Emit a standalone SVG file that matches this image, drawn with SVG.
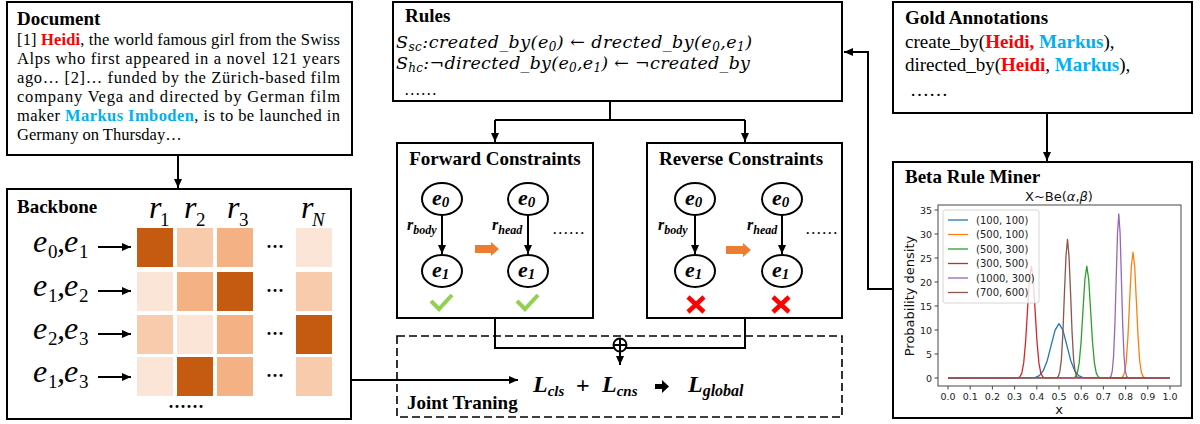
<svg xmlns="http://www.w3.org/2000/svg" width="1200" height="424" viewBox="0 0 1200 424">
<defs>
<style>
.box{fill:#fff;stroke:#000;stroke-width:2}
.conn{fill:none;stroke:#000;stroke-width:2}
.ttl{font-family:"Liberation Serif",serif;font-weight:bold;font-size:19px;fill:#000}
.body{font-family:"Liberation Serif",serif;font-size:16.5px;fill:#000}
.gold{font-family:"Liberation Serif",serif;font-size:19px;fill:#000}
.red{fill:#ff0000;font-weight:bold}
.blue{fill:#00b0f0;font-weight:bold}
.math{font-family:"DejaVu Serif",serif;font-style:italic;font-size:17.5px;fill:#000}
.msub{font-size:12px}
.ebig{font-family:"Liberation Serif",serif;font-style:italic;font-size:32px;fill:#000}
.esub{font-family:"Liberation Serif",serif;font-style:normal;font-size:19px;fill:#000}
.bi{font-family:"Liberation Serif",serif;font-style:italic;font-weight:bold;fill:#000}
.node{fill:#fff;stroke:#000;stroke-width:2}
.tick{font-family:"DejaVu Sans",sans-serif;font-size:9.5px;fill:#222}
.lg{font-family:"DejaVu Sans",sans-serif;font-size:10px;fill:#222}
.ax{font-family:"DejaVu Sans",sans-serif;font-size:13px;fill:#111}
.curve{fill:none;stroke-width:1.3;stroke-linejoin:round}
.orange{fill:#ed7d31}
</style>
<marker id="ah" markerUnits="userSpaceOnUse" markerWidth="10" markerHeight="8" refX="9" refY="4" orient="auto">
<path d="M0,0 L9,4 L0,8 z" fill="#000"/>
</marker>
</defs>
<rect width="1200" height="424" fill="#fff"/>

<!-- Document -->
<g id="document">
<rect class="box" x="7" y="2" width="345" height="153"/>
<text class="ttl" x="17" y="25">Document</text>
<text class="body" x="17" y="45" textLength="323" lengthAdjust="spacing">[1] <tspan class="red">Heidi</tspan>, the world famous girl from the Swiss</text>
<text class="body" x="17" y="64" textLength="323" lengthAdjust="spacing">Alps who first appeared in a novel 121 years</text>
<text class="body" x="17" y="83" textLength="323" lengthAdjust="spacing">ago… [2]… funded by the Zürich-based film</text>
<text class="body" x="17" y="102" textLength="323" lengthAdjust="spacing">company Vega and directed by German film</text>
<text class="body" x="17" y="121" textLength="323" lengthAdjust="spacing">maker <tspan class="blue">Markus Imboden</tspan>, is to be launched in</text>
<text class="body" x="17" y="140">Germany on Thursday…</text>
</g>

<!-- Backbone -->
<g id="backbone">
<rect class="box" x="7" y="189" width="344" height="230"/>
<text class="ttl" x="17" y="213">Backbone</text>
<text class="ebig" x="149" y="218">r</text><text class="esub" x="160" y="226">1</text>
<text class="ebig" x="184" y="218">r</text><text class="esub" x="196" y="226">2</text>
<text class="ebig" x="227" y="218">r</text><text class="esub" x="239" y="226">3</text>
<text class="ebig" x="301" y="218">r</text><text class="esub" x="312" y="226" style="font-style:italic">N</text>
<g>
<rect x="137" y="228" width="36" height="39" fill="#c55a11"/>
<rect x="177" y="228" width="36" height="39" fill="#f8cbad"/>
<rect x="217" y="228" width="36" height="39" fill="#f4b183"/>
<rect x="296" y="228" width="36" height="39" fill="#fbe5d6"/>
<rect x="137" y="272" width="36" height="39" fill="#fbe5d6"/>
<rect x="177" y="272" width="36" height="39" fill="#f4b183"/>
<rect x="217" y="272" width="36" height="39" fill="#c55a11"/>
<rect x="296" y="272" width="36" height="39" fill="#f8cbad"/>
<rect x="137" y="315" width="36" height="39" fill="#f8cbad"/>
<rect x="177" y="315" width="36" height="39" fill="#fbe5d6"/>
<rect x="217" y="315" width="36" height="39" fill="#f4b183"/>
<rect x="296" y="315" width="36" height="39" fill="#c55a11"/>
<rect x="137" y="357" width="36" height="39" fill="#fbe5d6"/>
<rect x="177" y="357" width="36" height="39" fill="#c55a11"/>
<rect x="217" y="357" width="36" height="39" fill="#f4b183"/>
<rect x="296" y="357" width="36" height="39" fill="#f8cbad"/>
</g>
<g class="ttl" style="font-size:18px">
<text x="266" y="253">···</text>
<text x="266" y="297">···</text>
<text x="266" y="340">···</text>
<text x="266" y="382">···</text>
<text x="168" y="413">······</text>
</g>
<text class="ebig" y="252"><tspan x="33">e</tspan><tspan class="esub" x="48" y="258">0</tspan><tspan x="57" y="252">,</tspan><tspan x="64">e</tspan><tspan class="esub" x="79" y="258">1</tspan></text>
<text class="ebig" y="296"><tspan x="33">e</tspan><tspan class="esub" x="48" y="302">1</tspan><tspan x="57" y="296">,</tspan><tspan x="64">e</tspan><tspan class="esub" x="79" y="302">2</tspan></text>
<text class="ebig" y="339"><tspan x="33">e</tspan><tspan class="esub" x="48" y="345">2</tspan><tspan x="57" y="339">,</tspan><tspan x="64">e</tspan><tspan class="esub" x="79" y="345">3</tspan></text>
<text class="ebig" y="382"><tspan x="33">e</tspan><tspan class="esub" x="48" y="388">1</tspan><tspan x="57" y="382">,</tspan><tspan x="64">e</tspan><tspan class="esub" x="79" y="388">3</tspan></text>
<g class="conn" stroke-width="1.8">
<line x1="98" y1="247" x2="131" y2="247" marker-end="url(#ah)"/>
<line x1="98" y1="291" x2="131" y2="291" marker-end="url(#ah)"/>
<line x1="98" y1="334" x2="131" y2="334" marker-end="url(#ah)"/>
<line x1="98" y1="377" x2="131" y2="377" marker-end="url(#ah)"/>
</g>
</g>

<!-- Rules -->
<g id="rules">
<rect class="box" x="393" y="2" width="449" height="99"/>
<text class="ttl" x="405" y="22">Rules</text>
<text class="math" x="396" y="48" textLength="356" lengthAdjust="spacing">S<tspan class="msub" dy="3">sc</tspan><tspan dy="-3">:created_by(e</tspan><tspan class="msub" dy="3">0</tspan><tspan dy="-3">) ← drected_by(e</tspan><tspan class="msub" dy="3">0</tspan><tspan dy="-3">,e</tspan><tspan class="msub" dy="3">1</tspan><tspan dy="-3">)</tspan></text>
<text class="math" x="396" y="69" textLength="354" lengthAdjust="spacing">S<tspan class="msub" dy="3">hc</tspan><tspan dy="-3">:¬directed_by(e</tspan><tspan class="msub" dy="3">0</tspan><tspan dy="-3">,e</tspan><tspan class="msub" dy="3">1</tspan><tspan dy="-3">) ← ¬created_by</tspan></text>
<text class="body" x="404" y="95">……</text>
</g>

<!-- Gold Annotations -->
<g id="gold">
<rect class="box" x="893" y="2" width="299" height="111"/>
<text class="ttl" x="905" y="24">Gold Annotations</text>
<text class="gold" x="905" y="48">create_by(<tspan class="red">Heidi,</tspan> <tspan class="blue">Markus</tspan>),</text>
<text class="gold" x="905" y="71">directed_by(<tspan class="red">Heidi</tspan>, <tspan class="blue">Markus</tspan>),</text>
<text class="gold" x="910" y="96">……</text>
</g>

<!-- Forward Constraints -->
<g id="forward">
<rect class="box" x="397" y="143" width="196" height="175"/>
<text class="ttl" x="495" y="165" text-anchor="middle">Forward Constraints</text>
<ellipse class="node" cx="442" cy="199" rx="20" ry="16"/>
<ellipse class="node" cx="442" cy="271" rx="20" ry="16"/>
<ellipse class="node" cx="528" cy="199" rx="20" ry="16"/>
<ellipse class="node" cx="528" cy="271" rx="20" ry="16"/>
<line class="conn" x1="442" y1="215" x2="442" y2="254" stroke-width="1.8" marker-end="url(#ah)"/>
<line class="conn" x1="528" y1="215" x2="528" y2="254" stroke-width="1.8" marker-end="url(#ah)"/>
<text class="bi" font-size="22" x="432" y="205">e<tspan font-size="15" dy="2">0</tspan></text>
<text class="bi" font-size="22" x="432" y="277">e<tspan font-size="15" dy="2">1</tspan></text>
<text class="bi" font-size="22" x="518" y="205">e<tspan font-size="15" dy="2">0</tspan></text>
<text class="bi" font-size="22" x="518" y="277">e<tspan font-size="15" dy="2">1</tspan></text>
<text class="bi" font-size="16" x="407" y="230">r<tspan font-size="12" dy="4">body</tspan></text>
<text class="bi" font-size="16" x="492" y="230">r<tspan font-size="12" dy="4">head</tspan></text>
<polygon class="orange" points="475,245 491,245 491,242 499,249 491,256 491,253 475,253"/>
<text class="body" x="552" y="234">……</text>
<polyline points="431,301 439,309 452,295" fill="none" stroke="#92d050" stroke-width="4"/>
<polyline points="517,301 525,309 538,295" fill="none" stroke="#92d050" stroke-width="4"/>
</g>

<!-- Reverse Constraints -->
<g id="reverse">
<rect class="box" x="647" y="143" width="195" height="175"/>
<text class="ttl" x="741" y="165" text-anchor="middle">Reverse Constraints</text>
<ellipse class="node" cx="695" cy="199" rx="20" ry="16"/>
<ellipse class="node" cx="695" cy="271" rx="20" ry="16"/>
<ellipse class="node" cx="782" cy="199" rx="20" ry="16"/>
<ellipse class="node" cx="782" cy="271" rx="20" ry="16"/>
<line class="conn" x1="695" y1="215" x2="695" y2="254" stroke-width="1.8" marker-end="url(#ah)"/>
<line class="conn" x1="782" y1="215" x2="782" y2="254" stroke-width="1.8" marker-end="url(#ah)"/>
<text class="bi" font-size="22" x="685" y="205">e<tspan font-size="15" dy="2">0</tspan></text>
<text class="bi" font-size="22" x="685" y="277">e<tspan font-size="15" dy="2">1</tspan></text>
<text class="bi" font-size="22" x="772" y="205">e<tspan font-size="15" dy="2">0</tspan></text>
<text class="bi" font-size="22" x="772" y="277">e<tspan font-size="15" dy="2">1</tspan></text>
<text class="bi" font-size="16" x="658" y="230">r<tspan font-size="12" dy="4">body</tspan></text>
<text class="bi" font-size="16" x="747" y="230">r<tspan font-size="12" dy="4">head</tspan></text>
<polygon class="orange" points="726,246 743,246 743,243 751,250 743,257 743,254 726,254"/>
<text class="body" x="805" y="234">……</text>
<g stroke="#ff0000" stroke-width="4.5">
<line x1="688" y1="297" x2="704" y2="312"/><line x1="704" y1="297" x2="688" y2="312"/>
<line x1="773" y1="297" x2="789" y2="312"/><line x1="789" y1="297" x2="773" y2="312"/>
</g>
</g>

<!-- Joint Training -->
<g id="joint">
<rect x="397" y="336" width="445" height="81" fill="none" stroke="#000" stroke-width="1.6" stroke-dasharray="8 4"/>
<text class="ttl" x="407" y="409">Joint Traning</text>
<text class="bi" font-size="24" x="533" y="392">L<tspan font-size="15" dy="4">cls</tspan></text>
<text class="ttl" style="font-size:24px" x="576" y="393">+</text>
<text class="bi" font-size="24" x="602" y="392">L<tspan font-size="15" dy="4">cns</tspan></text>
<polygon points="655,384 662,384 662,380 669,386.5 662,393 662,389 655,389" fill="#000"/>
<text class="bi" font-size="24" x="688" y="392">L<tspan font-size="16" dy="4">global</tspan></text>
</g>

<!-- Beta Rule Miner -->
<g id="beta">
<rect class="box" x="893" y="162" width="299" height="256"/>
<text class="ttl" x="905" y="183">Beta Rule Miner</text>
<text class="ax" x="1059" y="201" text-anchor="middle">X~Be(<tspan font-style="italic">α</tspan>,<tspan font-style="italic">β</tspan>)</text>
<g class="curve">
<path stroke="#1f77b4" d="M948,378 L1031.6,377.9 L1035.5,377.4 L1039.4,375.6 L1043.3,370.7 L1047.3,360.4 L1051.2,345.1 L1055.1,330.1 L1059,323.7 L1062.9,330.1 L1066.8,345.1 L1070.7,360.4 L1074.7,370.7 L1078.6,375.6 L1082.5,377.4 L1086.4,377.9 L1170,378"/>
<path stroke="#ff7f0e" d="M948,378 L1121.2,377.7 L1122.9,376.6 L1124.6,372.5 L1126.3,361 L1127.9,337.2 L1129.6,301.7 L1131.3,267 L1133,252.2 L1134.7,267 L1136.4,301.7 L1138.1,337.2 L1139.7,361 L1141.4,372.5 L1143.1,376.6 L1144.8,377.7 L1170,378"/>
<path stroke="#2ca02c" d="M948,378 L1073.5,377.75 L1075.4,376.8 L1077.3,373.1 L1079.2,362.9 L1081.1,341.7 L1083,310.2 L1084.9,279.3 L1086.8,266.2 L1088.7,279.3 L1090.6,310.2 L1092.5,341.7 L1094.4,362.9 L1096.3,373.1 L1098.2,376.8 L1100.1,377.75 L1170,378"/>
<path stroke="#d62728" d="M948,378 L1018,377.75 L1019.9,376.8 L1021.8,373.1 L1023.7,362.9 L1025.6,341.7 L1027.5,310.2 L1029.4,279.3 L1031.3,266.2 L1033.2,279.3 L1035.1,310.2 L1037,341.7 L1038.9,362.9 L1040.8,373.1 L1042.7,376.8 L1044.6,377.75 L1170,378"/>
<path stroke="#9467bd" d="M948,378 L1109.7,377.6 L1111,376.2 L1112.3,370.8 L1113.6,355.8 L1114.9,324.8 L1116.2,278.5 L1117.5,233.3 L1118.8,214 L1120.1,233.3 L1121.4,278.5 L1122.7,324.8 L1124,355.8 L1125.3,370.8 L1126.6,376.2 L1127.9,377.6 L1170,378"/>
<path stroke="#8c564b" d="M948,378 L1056.8,377.7 L1058.3,376.5 L1059.8,371.9 L1061.4,359.3 L1062.9,333 L1064.4,293.9 L1066,255.7 L1067.5,239.4 L1069,255.7 L1070.6,293.9 L1072.1,333 L1073.6,359.3 L1075.2,371.9 L1076.7,376.5 L1078.2,377.7 L1170,378"/>
</g>
<rect x="943" y="210" width="96" height="93" rx="2" fill="#fff" fill-opacity="0.8" stroke="#ccc" stroke-width="0.8"/>
<g stroke-width="1.3">
<line x1="948" y1="220" x2="968" y2="220" stroke="#1f77b4"/>
<line x1="948" y1="234.5" x2="968" y2="234.5" stroke="#ff7f0e"/>
<line x1="948" y1="249" x2="968" y2="249" stroke="#2ca02c"/>
<line x1="948" y1="263.5" x2="968" y2="263.5" stroke="#d62728"/>
<line x1="948" y1="278" x2="968" y2="278" stroke="#9467bd"/>
<line x1="948" y1="292.5" x2="968" y2="292.5" stroke="#8c564b"/>
</g>
<g class="lg">
<text x="976" y="223.5">(100, 100)</text>
<text x="976" y="238">(500, 100)</text>
<text x="976" y="252.5">(500, 300)</text>
<text x="976" y="267">(300, 500)</text>
<text x="976" y="281.5">(1000, 300)</text>
<text x="976" y="296">(700, 600)</text>
</g>
<rect x="938" y="205" width="243" height="181" fill="none" stroke="#333" stroke-width="0.9"/>
<g stroke="#333" stroke-width="0.9">
<line x1="934.5" y1="378" x2="938" y2="378"/><line x1="934.5" y1="354" x2="938" y2="354"/>
<line x1="934.5" y1="330" x2="938" y2="330"/><line x1="934.5" y1="306" x2="938" y2="306"/>
<line x1="934.5" y1="282" x2="938" y2="282"/><line x1="934.5" y1="258" x2="938" y2="258"/>
<line x1="934.5" y1="234" x2="938" y2="234"/><line x1="934.5" y1="210" x2="938" y2="210"/>
<line x1="948" y1="386" x2="948" y2="389.5"/><line x1="970.2" y1="386" x2="970.2" y2="389.5"/>
<line x1="992.4" y1="386" x2="992.4" y2="389.5"/><line x1="1014.6" y1="386" x2="1014.6" y2="389.5"/>
<line x1="1036.8" y1="386" x2="1036.8" y2="389.5"/><line x1="1059" y1="386" x2="1059" y2="389.5"/>
<line x1="1081.2" y1="386" x2="1081.2" y2="389.5"/><line x1="1103.4" y1="386" x2="1103.4" y2="389.5"/>
<line x1="1125.6" y1="386" x2="1125.6" y2="389.5"/><line x1="1147.8" y1="386" x2="1147.8" y2="389.5"/>
<line x1="1170" y1="386" x2="1170" y2="389.5"/>
</g>
<g class="tick" text-anchor="end">
<text x="932" y="381.5">0</text><text x="932" y="357.5">5</text>
<text x="932" y="333.5">10</text><text x="932" y="309.5">15</text>
<text x="932" y="285.5">20</text><text x="932" y="261.5">25</text>
<text x="932" y="237.5">30</text><text x="932" y="213.5">35</text>
</g>
<g class="tick" text-anchor="middle">
<text x="948" y="400">0.0</text><text x="970.2" y="400">0.1</text>
<text x="992.4" y="400">0.2</text><text x="1014.6" y="400">0.3</text>
<text x="1036.8" y="400">0.4</text><text x="1059" y="400">0.5</text>
<text x="1081.2" y="400">0.6</text><text x="1103.4" y="400">0.7</text>
<text x="1125.6" y="400">0.8</text><text x="1147.8" y="400">0.9</text>
<text x="1170" y="400">1.0</text>
</g>
<text class="ax" x="1059" y="414" text-anchor="middle">x</text>
<text class="ax" transform="translate(914,296) rotate(-90)" text-anchor="middle">Probability density</text>
</g>

<!-- Connectors -->
<g id="connectors" class="conn">
<line x1="178" y1="155" x2="178" y2="188" marker-end="url(#ah)"/>
<polyline points="610,101 610,120"/>
<polyline points="495,120 745,120"/>
<line x1="495" y1="120" x2="495" y2="142" marker-end="url(#ah)"/>
<line x1="745" y1="120" x2="745" y2="142" marker-end="url(#ah)"/>
<polyline points="495,318 495,348 745,348 745,318"/>
<circle cx="620" cy="345" r="6.5" fill="#fff"/>
<line x1="613.5" y1="345" x2="626.5" y2="345"/>
<line x1="620" y1="338.5" x2="620" y2="351.5"/>
<line x1="620" y1="351.5" x2="620" y2="365" marker-end="url(#ah)"/>
<line x1="351" y1="380" x2="518" y2="380" marker-end="url(#ah)"/>
<line x1="1047" y1="113" x2="1047" y2="161" marker-end="url(#ah)"/>
<polyline points="893,289 868,289 868,52 844,52" marker-end="url(#ah)"/>
</g>
</svg>
